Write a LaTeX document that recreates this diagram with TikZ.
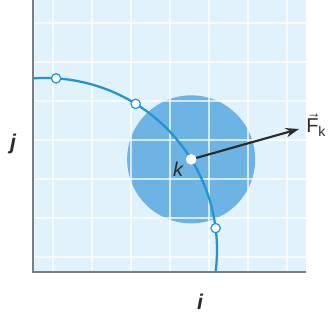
\documentclass[tikz,border=0pt]{standalone}
\usepackage{amsmath}
\usepackage{fontspec}
\setmainfont{Liberation Sans}
\usetikzlibrary{arrows.meta}
\definecolor{PanelBlue}{HTML}{E1F2FC}
\definecolor{DiscBlue}{HTML}{6DB3E4}
\definecolor{ArcBlue}{HTML}{1E95D6}
\definecolor{AxisGray}{HTML}{7A7F84}
\definecolor{InkDark}{HTML}{2B2B2B}
\tikzset{
  gridline/.style={draw=white,line width=0.8pt,opacity=0.7},
  axisline/.style={draw=AxisGray,line width=1.5pt},
  arcline/.style={draw=ArcBlue,line width=1.7pt},
  arcpoint/.style={circle,draw=ArcBlue,fill=white,line width=0.9pt,inner sep=0pt,minimum size=7pt},
  forcearrow/.style={-{Stealth[length=10pt,width=7pt]},line width=1.6pt,draw=InkDark},
  axislabel/.style={text=InkDark,font=\fontsize{16}{18}\selectfont\bfseries\itshape}
}

\begin{document}
\begin{tikzpicture}[x=0.75pt,y=0.75pt]
\useasboundingbox (0,0) rectangle (329,323);
\fill[PanelBlue] (33,51) rectangle (306,323);
\coordinate (c) at (45,73);
\coordinate (kpos) at ([shift={(31.8:172)}]c);
\fill[DiscBlue] (kpos) circle[radius=64];
% grid
\foreach \x in {53,92,...,287} \draw[gridline] (\x,51) -- (\x,323);
\foreach \y in {66,105,...,300} \draw[gridline] (33,\y) -- (306,\y);
\begin{scope}
\clip (33,51) rectangle (306,323);
\draw[arcline] (c) circle[radius=172];
\end{scope}
\draw[axisline] (33,323) -- (33,51) -- (306,51);
% points on the arc
\node[arcpoint] (p1) at ([shift={(86.3:172)}]c) {};
\node[arcpoint] (p2) at ([shift={(58.2:172)}]c) {};
\node[arcpoint] (p3) at ([shift={(7.3:172)}]c) {};
\node[arcpoint,draw=white] (k) at (kpos) {};
\coordinate (ftip) at (299,194);
\draw[forcearrow] (k) -- (ftip);
\node[text=InkDark,font=\fontsize{15}{17}\selectfont\itshape] (klabel) at (178,154) {k};
\node[anchor=base west,inner sep=0pt,text=InkDark,font=\fontsize{15}{18}\selectfont] (flabel) at (306,190) {$\vec{\text{F}}_{\text{k}}$};
\node[axislabel] (jlabel) at (13,179) {j};
\node[axislabel] (ilabel) at (200,21) {i};
\end{tikzpicture}
\end{document}
